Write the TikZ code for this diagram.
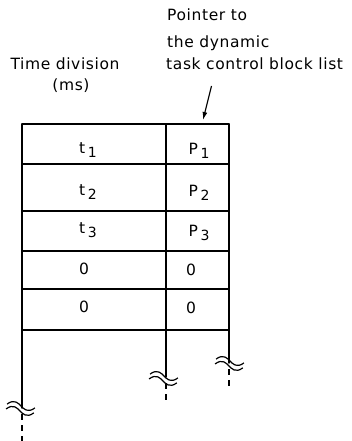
\documentclass[tikz,border=0pt]{standalone}
\usepackage{fontspec}
\setmainfont{DejaVu Sans}[LetterSpace=4]
\usetikzlibrary{arrows.meta}
\tikzset{
  rule/.style={line width=1.4pt, line cap=round},
  lbl/.style={inner sep=0pt, font=\fontsize{15.5}{17}\selectfont},
  cell/.style={inner sep=0pt, anchor=base, font=\fontsize{15.5}{17}\selectfont},
  dashpart/.style={line width=1.2pt, dash pattern=on 6pt off 5pt},
  brk/.pic={\draw[line width=1.2pt, rotate=-12] (-14,1) .. controls (-8,-6) and (-3,-2) .. (0,0) .. controls (3,2) and (8,6) .. (14,-1);
            \draw[line width=1.2pt, rotate=-12] (-14,6) .. controls (-8,-1) and (-3,3) .. (0,5) .. controls (3,7) and (8,11) .. (14,4);}
}
\newcommand{\subn}[1]{\,\raisebox{-4pt}{\fontsize{14}{14}\selectfont #1}}
\begin{document}
\begin{tikzpicture}[x=1pt,y=-1pt]
\useasboundingbox (0,0) rectangle (351,441);
% labels
\node[lbl, anchor=base] (td) at (65,70) {Time division};
\node[lbl, anchor=base] (ms) at (71,91) {(ms)};
\node[lbl, anchor=base west] (pt) at (167,21) {Pointer to};
\node[lbl, anchor=base west] (dy) at (167,48) {the dynamic};
\node[lbl, anchor=base west] (tc) at (166,70) {task control block list};
\coordinate (a0) at (211.5,86);
\coordinate (a1) at (203,120);
\draw[line width=1.2pt, -{Latex[length=8pt,width=5pt]}] (a0) -- (a1);
% table columns
\coordinate (L) at (22,124);
\coordinate (M) at (166,124);
\coordinate (R) at (229,124);
\draw[rule] (L) -- (22,408);
\draw[rule] (M) -- (166,377);
\draw[rule] (R) -- (229,363);
\draw[dashpart] (22,414) -- (22,441);
\draw[dashpart] (166,383) -- (166,402);
\draw[dashpart] (229,369) -- (229,390);
\pic at (21,406) {brk};
\pic at (164,376) {brk};
\pic at (230,361) {brk};
% rows
\foreach \y in {124,164,211,251,289,330} \draw[rule] (22,\y) -- (229,\y);
% cells
\node[cell] (t1) at (88,153) {t\subn{1}};
\node[cell] (p1) at (199,154) {P\subn{1}};
\node[cell] (t2) at (88,195) {t\subn{2}};
\node[cell] (p2) at (199,196) {P\subn{2}};
\node[cell] (t3) at (88,233) {t\subn{3}};
\node[cell] (p3) at (199,236) {P\subn{3}};
\node[cell] (z1) at (84,274) {0};
\node[cell] (z2) at (191,275) {0};
\node[cell] (z3) at (84,312) {0};
\node[cell] (z4) at (191,313) {0};
\end{tikzpicture}
\end{document}
